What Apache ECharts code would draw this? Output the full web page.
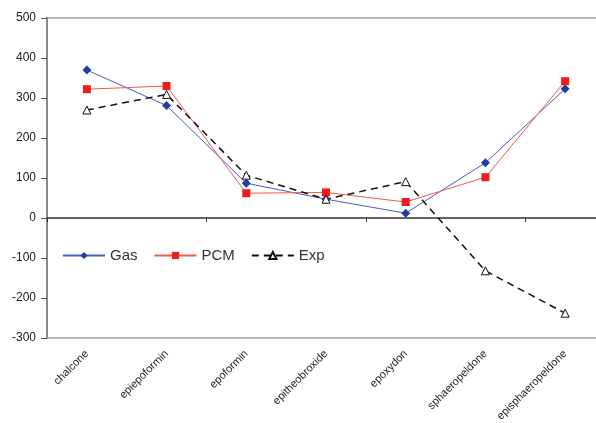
<!DOCTYPE html>
<html>
<head>
<meta charset="utf-8">
<script src="https://cdn.jsdelivr.net/npm/echarts@6/dist/echarts.min.js"></script>
<style>
  html, body { margin: 0; padding: 0; background: #fff; }
  #chart { width: 596px; height: 423px; }
</style>
</head>
<body>
<div id="chart"></div>
<script>
const categories = ['chalcone', 'epiepoformin', 'epoformin', 'epitheobroxide', 'epoxydon', 'sphaeropeldone', 'episphaeropeldone']
const gasValues = [370, 281, 87, 47, 12, 138, 323]
const pcmValues = [322, 330, 62, 64, 40, 102, 342]
const expValues = [270, 309, 107, 47, 91, -132, -238]

const chart = echarts.init(document.getElementById('chart'))

chart.setOption({
  backgroundColor: '#ffffff',
  animation: false,
  textStyle: { fontFamily: 'Liberation Sans, Arial, sans-serif' },
  grid: {
    left: 47,
    right: -9,
    top: 18,
    bottom: 85,
    outerBoundsMode: 'none',
    containLabel: false,
    show: true,
    borderColor: '#a0a0a0',
    borderWidth: 1.5
  },
  legend: {
    left: 62,
    top: 248,
    padding: 0,
    itemWidth: 42,
    itemHeight: 9,
    itemGap: 16,
    textStyle: { fontSize: 15, color: '#333' },
    data: ['Gas', 'PCM', 'Exp']
  },
  xAxis: [{
    type: 'category',
    data: categories,
    boundaryGap: true,
    axisLine: { onZero: true, lineStyle: { color: '#333', width: 1.5 } },
    axisTick: { show: true, length: 4, lineStyle: { color: '#333' } },
    axisLabel: { show: false },
    splitLine: { show: false }
  }, {
    type: 'category',
    data: categories,
    position: 'bottom',
    boundaryGap: true,
    axisLine: { show: false, onZero: false },
    axisTick: { show: false },
    axisLabel: { rotate: 45, fontSize: 11, color: '#222', margin: 14 },
    splitLine: { show: false }
  }],
  yAxis: {
    type: 'value',
    min: -300,
    max: 500,
    interval: 100,
    axisLine: { show: true, lineStyle: { color: '#888', width: 2 } },
    axisTick: { show: true, length: 6, lineStyle: { color: '#555' } },
    axisLabel: { fontSize: 12, color: '#222', margin: 11 },
    splitLine: { show: false }
  },
  series: [{
    name: 'Gas',
    type: 'line',
    data: gasValues,
    symbol: 'diamond',
    symbolSize: 9,
    lineStyle: { color: '#4a5fc0', width: 1 },
    itemStyle: { color: '#1f3f9f' }
  }, {
    name: 'PCM',
    type: 'line',
    data: pcmValues,
    symbol: 'rect',
    symbolSize: 8,
    lineStyle: { color: '#f25a45', width: 1 },
    itemStyle: { color: '#ee1c1c' }
  }, {
    name: 'Exp',
    type: 'line',
    data: expValues,
    symbol: 'triangle',
    symbolSize: 8,
    lineStyle: { color: '#111', width: 1.5, type: [7, 5] },
    itemStyle: { color: '#ffffff', borderColor: '#111', borderWidth: 1 }
  }]
})
</script>
</body>
</html>
